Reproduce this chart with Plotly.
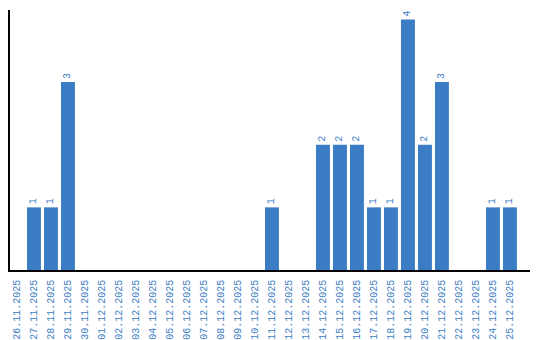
import plotly.graph_objects as go

dates = ["26.11.2025", "27.11.2025", "28.11.2025", "29.11.2025", "30.11.2025",
         "01.12.2025", "02.12.2025", "03.12.2025", "04.12.2025", "05.12.2025",
         "06.12.2025", "07.12.2025", "08.12.2025", "09.12.2025", "10.12.2025",
         "11.12.2025", "12.12.2025", "13.12.2025", "14.12.2025", "15.12.2025",
         "16.12.2025", "17.12.2025", "18.12.2025", "19.12.2025", "20.12.2025",
         "21.12.2025", "22.12.2025", "23.12.2025", "24.12.2025", "25.12.2025"]
counts = [0, 1, 1, 3, 0,
          0, 0, 0, 0, 0,
          0, 0, 0, 0, 0,
          1, 0, 0, 2, 2,
          2, 1, 1, 4, 2,
          3, 0, 0, 1, 1]

labels = [str(v) if v > 0 else "" for v in counts]
blue = "#3b7dc4"

fig = go.Figure(go.Bar(
    x=list(range(len(dates))), y=counts,
    marker=dict(color=blue, line=dict(width=0)),
    text=labels, textposition="outside", textangle=-90,
    textfont=dict(family="Liberation Mono", size=10, color=blue),
    cliponaxis=False,
))

fig.update_layout(
    width=540, height=340,
    margin=dict(l=10, r=10, t=10, b=70),
    paper_bgcolor="white", plot_bgcolor="white",
    bargap=0.18, showlegend=False,
    xaxis=dict(
        range=[-0.41, 30.18], tickmode="array",
        tickvals=list(range(len(dates))), ticktext=dates,
        tickangle=-90, ticks="", showgrid=False, zeroline=False,
        showline=True, linecolor="black", linewidth=1.5,
        automargin=False, ticklabelstandoff=4,
        tickfont=dict(family="Liberation Mono", size=10, color=blue),
    ),
    yaxis=dict(
        range=[0, 4.15], showticklabels=False, ticks="",
        showgrid=False, zeroline=False, automargin=False,
        showline=True, linecolor="black", linewidth=1.5,
    ),
)

fig.write_html("out.html")
